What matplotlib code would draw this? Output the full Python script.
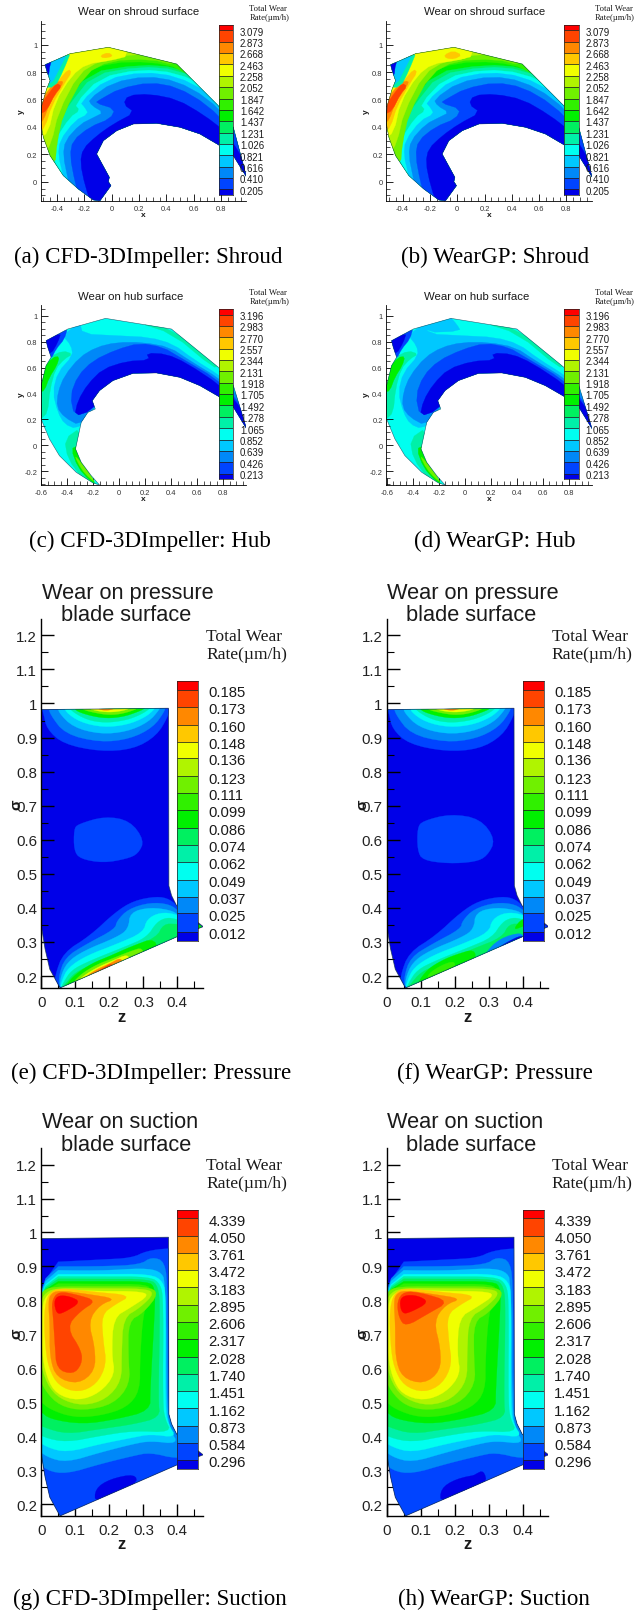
import matplotlib
matplotlib.use("Agg")
import matplotlib.pyplot as plt
from matplotlib.colors import ListedColormap
from matplotlib.patches import Polygon
from matplotlib.ticker import MultipleLocator
import numpy as np

W, H = 644, 1615
SANS = "Liberation Sans"
SERIF = "Liberation Serif"
PALETTE = ['#0000e8', '#0044ff', '#0088f8', '#00c8ff', '#00fff0', '#00f0a8', '#00f060', '#00f000',
           '#30f000', '#70f000', '#b0f400', '#f0ff00', '#ffc800', '#ff8800', '#ff4400', '#ff0000']

SHROUD_LEVELS = [3.079, 2.873, 2.668, 2.463, 2.258, 2.052, 1.847, 1.642, 1.437, 1.231, 1.026, 0.821, 0.616, 0.410, 0.205]
HUB_LEVELS = [3.196, 2.983, 2.770, 2.557, 2.344, 2.131, 1.918, 1.705, 1.492, 1.278, 1.065, 0.852, 0.639, 0.426, 0.213]
PRESSURE_LEVELS = [0.185, 0.173, 0.160, 0.148, 0.136, 0.123, 0.111, 0.099, 0.086, 0.074, 0.062, 0.049, 0.037, 0.025, 0.012]
SUCTION_LEVELS = [4.339, 4.050, 3.761, 3.472, 3.183, 2.895, 2.606, 2.317, 2.028, 1.740, 1.451, 1.162, 0.873, 0.584, 0.296]

SHROUD_OUTLINE = [(-.488,.854),(-.402,.891),(-.305,.934),(-.024,.981),(.476,.859),(.78,.555),(.89,.397),(.988,.032),
    (.89,.19),(.78,.27),(.646,.348),(.5,.397),(.329,.426),(.159,.421),(.037,.372),(-.061,.299),(-.11,.202),(-.017,.032),
    (-.024,0),(-.005,-.029),(-.085,-.139),(-.134,-.134),(-.244,-.054),(-.354,.044),(-.451,.19),(-.5,.324),(-.52,.433),
    (-.512,.555),(-.476,.676),(-.451,.737),(-.476,.81)]
SHROUD_BANDS = [
 (6,[(-.355,.54),(-.17,.795),(.205,.855),(.475,.835),(.76,.72),(.95,.57),(1.07,.40),(1.06,-.22),(-.42,-.22),(-.46,.13),(-.47,.25),(-.39,.50)]),
 (5,[(-.315,.555),(-.135,.78),(.205,.84),(.475,.82),(.745,.69),(.94,.53),(1.06,.36),(1.06,-.22),(-.40,-.22),(-.43,.115),(-.45,.25),(-.34,.505)]),
 (4,[(-.27,.565),(-.085,.76),(.205,.82),(.475,.795),(.72,.68),(.89,.52),(1.06,.31),(1.06,-.22),(-.35,-.22),(-.39,.07),(-.43,.20),(-.41,.31),(-.305,.47),(-.23,.52)]),
 (3,[(-.23,.58),(-.035,.75),(.23,.80),(.475,.77),(.71,.65),(.89,.47),(1.06,.26),(1.06,-.22),(-.305,-.22),(-.355,.045),(-.39,.19),(-.38,.30),(-.27,.445),(-.17,.495),(-.195,.54)]),
 (2,[(-.17,.60),(.01,.725),(.255,.77),(.475,.735),(.695,.615),(.89,.42),(1.06,.19),(1.06,-.22),(-.27,-.22),(-.32,.02),(-.355,.19),(-.34,.30),(-.23,.42),(-.13,.47),(-.06,.505),(-.145,.555)]),
 (1,[(-.085,.60),(.06,.68),(.28,.725),(.48,.69),(.695,.565),(.89,.37),(1.06,.12),(1.06,-.22),(-.21,-.22),(-.27,0),(-.305,.19),(-.285,.30),(-.16,.40),(-.01,.46),(.025,.53),(-.12,.575)]),
 (0,[(.12,.63),(.28,.64),(.48,.60),(.67,.49),(.84,.36),(1.04,.04),(1.04,-.22),(-.13,-.22),(-.195,-.03),(-.23,.14),(-.21,.24),(-.11,.335),(.01,.42),(.17,.505),(.085,.565)]),
 (8,[(-.43,.15),(-.42,.30),(-.375,.50),(-.22,.79),(0,.87),(.28,.875),(.5,.83),(.7,.66),(.85,.5),(.9,.6),(.5,1.0),(-.6,1.0),(-.6,.15)]),
 (9,[(-.415,.117),(-.40,.287),(-.354,.494),(-.195,.786),(-.012,.883),(.28,.895),(.476,.847),(.55,.97),(-.573,.97),(-.573,.117)]),
 (10,[(-.50,.19),(-.44,.287),(-.39,.506),(-.244,.786),(-.085,.883),(.085,.92),(.256,.93),(.23,1.04),(-.573,1.04),(-.573,.19)]),
 (11,[(-.537,.311),(-.463,.36),(-.415,.579),(-.293,.774),(-.183,.859),(-.012,.883),(.134,.92),(.037,1.017),(-.33,.968),(-.573,.603)]),
 (12,[(-.537,.36),(-.488,.397),(-.439,.555),(-.341,.725),(-.293,.798),(-.317,.822),(-.39,.737),(-.451,.664),(-.549,.579)]),
 (12,[(-.085,.92),(-.024,.944),(.012,.915),(-.061,.90)]),
 (13,[(-.529,.433),(-.50,.445),(-.451,.579),(-.366,.70),(-.354,.737),(-.415,.725),(-.476,.652),(-.549,.555)]),
 (14,[(-.524,.494),(-.476,.518),(-.415,.64),(-.366,.696),(-.402,.72),(-.456,.652),(-.524,.555)]),
 (5,[(-.293,.96),(-.354,.81),(-.415,.689),(-.52,.689),(-.52,.96)]),
 (3,[(-.317,.95),(-.39,.81),(-.439,.713),(-.512,.713),(-.512,.95)]),
 (0,[(-.42,.92),(-.451,.859),(-.463,.762),(-.512,.762),(-.512,.92)]),
]
SHROUD_BANDS_B = SHROUD_BANDS + [
 (11,[(-.12,.94),(.0,.97),(.1,.93),(.04,.89),(-.09,.89)]),
 (12,[(-.095,.925),(-.03,.955),(.035,.925),(-.02,.895),(-.08,.90)]),
]

HUB_OUTLINE = [(-.564,.807),(-.396,.897),(-.106,.979),(.401,.897),(.762,.602),(.878,.46),(.98,.126),(.878,.293),(.762,.378),
    (.62,.46),(.466,.524),(.286,.558),(.106,.555),(-.049,.499),(-.152,.422),(-.208,.344),(-.185,.28),(-.242,.254),(-.293,.177),
    (-.337,-.028),(-.293,-.131),(-.216,-.234),(-.152,-.306),(-.203,-.29),(-.332,-.208),(-.461,-.08),(-.538,.049),(-.602,.203),
    (-.605,.332),(-.602,.46),(-.564,.614),(-.525,.679),(-.551,.756)]
HUB_INNER = [(1.058,0),(.878,.152),(.62,.383),(.106,.589)]
HUB_BANDS = [
 (3,[(-.473,.254),(-.512,.409),(-.473,.563),(-.358,.692),(-.371,.769),(-.435,.846),(-.306,.949),(-.28,.859),(-.023,.846),(.234,.833),(.414,.781),(.569,.666),(.774,.537),(.929,.409),(1.058,.152)] + HUB_INNER + [(-.229,.332),(-.242,.203),(-.332,.126),(-.422,.165)]),
 (2,[(-.422,.216),(-.481,.293),(-.473,.409),(-.422,.537),(-.306,.679),(-.178,.756),(-.023,.794),(.183,.794),(.389,.756),(.543,.653),(.774,.512),(.929,.37),(1.058,.10)] + HUB_INNER + [(-.216,.267),(-.306,.152)]),
 (1,[(-.345,.224),(-.378,.383),(-.319,.537),(-.203,.653),(-.023,.738),(.157,.789),(.337,.756),(.466,.679),(.749,.512),(.903,.357),(1.058,.126)] + HUB_INNER + [(-.216,.267)]),
 (0,[(-.345,.224),(-.319,.344),(-.242,.473),(-.126,.589),(.054,.648),(.234,.658),(.208,.712),(.363,.704),(.517,.635),(.774,.465),(.916,.319),(1.058,.10)] + HUB_INNER + [(-.216,.267)]),
 (5,[(-.602,.203),(-.551,.254),(-.533,.434),(-.491,.589),(-.422,.666),(-.358,.704),(-.435,.73),(-.538,.679),(-.64,.46),(-.64,.203)]),
 (7,[(-.614,.409),(-.576,.422),(-.538,.524),(-.481,.614),(-.46,.686),(-.512,.679),(-.589,.589)]),
 (5,[(-.422,.049),(-.293,.139),(-.337,-.067),(-.229,-.26),(-.126,-.337),(-.28,-.26),(-.396,-.105)]),
 (7,[(-.371,-.028),(-.319,-.003),(-.327,-.08),(-.178,-.298),(-.229,-.272),(-.319,-.17)]),
 (9,[(-.345,-.08),(-.306,-.118),(-.178,-.29),(-.229,-.254),(-.293,-.183)]),
 (5,[(.13,.95),(.41,.90),(.77,.61),(.72,.60),(.41,.86)]),
 (1,[(-.602,.82),(-.396,.91),(-.422,.82),(-.486,.743),(-.525,.666),(-.602,.666)]),
 (0,[(-.602,.807),(-.448,.871),(-.473,.794),(-.525,.704),(-.602,.704)]),
]
HUB_BANDS_D = HUB_BANDS + [(3,[(-.30,.96),(-.12,1.0),(-.06,.93),(-.03,.88),(-.30,.87)])]

BLADE_OUTLINE = [(0,.982),(.374,.986),(.375,.465),(.383,.436),(.398,.406),(.476,.345),(.398,.315),(.055,.165),(.025,.22),(.011,.28),(0,.348)]
PRESSURE_TOP = [
 (1,[(.006,.974),(.016,.925),(.065,.881),(.173,.859),(.271,.866),(.339,.905),(.374,.964),(.378,.994),(-.004,.994)]),
 (2,[(.025,.969),(.07,.91),(.173,.886),(.261,.896),(.329,.93),(.364,.979),(.364,.994),(.021,.994)]),
 (3,[(.05,.974),(.094,.93),(.173,.91),(.251,.917),(.315,.945),(.349,.984),(.349,.994),(.05,.994)]),
 (4,[(.07,.976),(.114,.945),(.182,.93),(.251,.937),(.305,.959),(.334,.984),(.334,.994),(.07,.994)]),
 (5,[(.085,.98),(.133,.952),(.187,.943),(.246,.95),(.29,.966),(.32,.985),(.32,.994),(.085,.994)]),
 (7,[(.099,.979),(.143,.964),(.192,.956),(.241,.961),(.28,.974),(.305,.985),(.305,.994),(.099,.994)]),
 (9,[(.12,.982),(.16,.972),(.2,.966),(.24,.97),(.285,.985),(.285,.994),(.12,.994)]),
 (11,[(.14,.984),(.18,.975),(.22,.975),(.26,.984),(.26,.994),(.14,.994)]),
 (13,[(.16,.986),(.19,.978),(.22,.986),(.22,.994),(.16,.994)]),
]
PRESSURE_BLOB = [(1,[(.096,.631),(.108,.646),(.187,.669),(.261,.656),(.303,.598),(.285,.559),(.251,.544),(.182,.532),(.114,.544),(.096,.569)])]
PRESSURE_BLOB_F = [(1,[(.09,.635),(.105,.655),(.187,.676),(.275,.662),(.32,.60),(.295,.552),(.26,.535),(.182,.53),(.105,.54),(.09,.57)])]
PRESSURE_LOW = [
 (1,[(.04,.201),(.065,.269),(.143,.318),(.217,.387),(.271,.421),(.339,.434),(.378,.426),(.408,.397),(.481,.338),(.408,.304),(.055,.157),(.04,.162)]),
 (2,[(.05,.196),(.07,.255),(.133,.294),(.217,.338),(.222,.362),(.256,.397),(.32,.416),(.378,.411),(.408,.387),(.481,.343),(.413,.304),(.055,.157)]),
 (3,[(.055,.193),(.075,.24),(.124,.274),(.222,.314),(.256,.338),(.261,.387),(.32,.402),(.388,.392),(.408,.372),(.481,.343),(.413,.304),(.055,.157)]),
 (4,[(.06,.186),(.079,.225),(.133,.26),(.222,.294),(.3,.328),(.31,.367),(.349,.387),(.398,.382),(.481,.343),(.413,.304),(.055,.157)]),
 (5,[(.065,.181),(.089,.218),(.143,.245),(.241,.284),(.31,.313),(.339,.358),(.369,.372),(.398,.367),(.481,.343),(.413,.304),(.055,.157)]),
 (6,[(.07,.176),(.099,.211),(.153,.235),(.251,.279),(.339,.313),(.359,.353),(.398,.353),(.481,.345),(.413,.304),(.055,.157)]),
]
PRESSURE_HIGH_E = [
 (7,[(.075,.176),(.10,.205),(.15,.238),(.2,.258),(.26,.285),(.34,.315),(.34,.24),(.06,.15)]),
 (9,[(.09,.178),(.12,.208),(.16,.232),(.2,.248),(.26,.272),(.30,.285),(.30,.24),(.09,.15)]),
 (11,[(.105,.185),(.135,.208),(.17,.228),(.21,.245),(.255,.265),(.26,.24),(.105,.15)]),
 (13,[(.13,.198),(.16,.218),(.2,.236),(.235,.255),(.24,.23),(.13,.17)]),
 (14,[(.15,.205),(.18,.222),(.21,.24),(.21,.21),(.15,.19)]),
 (7,[(.43,.33),(.485,.345),(.43,.36)]),
]
PRESSURE_HIGH_F = [
 (7,[(.09,.18),(.12,.22),(.16,.245),(.2,.262),(.26,.28),(.26,.24),(.09,.15)]),
 (8,[(.12,.205),(.16,.232),(.2,.245),(.2,.22),(.12,.185)]),
 (2,[(.285,.262),(.33,.31),(.40,.33),(.40,.30),(.3,.25)]),
 (0,[(.31,.27),(.35,.298),(.40,.322),(.40,.30),(.31,.26)]),
 (7,[(.37,.335),(.40,.372),(.43,.36),(.40,.345)]),
 (1,[(.42,.33),(.485,.345),(.42,.36)]),
]
SUCTION_LOW = [
 (1,[(-.024,.91),(.173,.92),(.266,.925),(.31,.946),(.378,.954),(.5,.954),(.5,.3),(.05,.1),(-.024,.1)]),
 (0,[(.158,.245),(.202,.274),(.276,.289),(.282,.259),(.158,.2)]),
 (2,[(-.024,.90),(.173,.90),(.29,.905),(.324,.928),(.364,.915),(.371,.827),(.373,.475),(.388,.416),(.466,.347),(.398,.333),(.32,.352),(.27,.342),(.173,.318),(.075,.289),(.016,.298),(-.024,.338)]),
 (3,[(-.024,.89),(.173,.887),(.30,.895),(.349,.886),(.366,.856),(.368,.475),(.38,.416),(.403,.377),(.32,.386),(.27,.377),(.173,.352),(.075,.323),(.016,.338),(-.024,.372)]),
 (4,[(-.024,.877),(.173,.877),(.32,.878),(.359,.856),(.366,.807),(.364,.484),(.373,.435),(.398,.396),(.32,.406),(.27,.396),(.173,.377),(.075,.352),(.016,.367),(-.024,.396)]),
 (5,[(-.024,.871),(.173,.87),(.32,.87),(.351,.848),(.359,.797),(.357,.494),(.364,.45),(.383,.411),(.27,.416),(.173,.401),(.075,.382),(.006,.396),(-.024,.421)]),
 (6,[(-.024,.864),(.173,.863),(.32,.863),(.344,.841),(.349,.778),(.344,.504),(.349,.455),(.27,.435),(.173,.421),(.075,.406),(.006,.426),(-.024,.445)]),
 (7,[(-.024,.856),(.173,.856),(.315,.856),(.334,.837),(.334,.778),(.32,.533),(.32,.475),(.221,.45),(.123,.435),(.025,.45),(-.004,.475),(-.024,.475)]),
 (8,[(-.024,.85),(.173,.848),(.31,.848),(.324,.827),(.30,.768),(.29,.631),(.29,.533),(.251,.484),(.173,.46),(.094,.455),(.025,.479),(-.004,.504),(-.024,.514)]),
 (9,[(-.012,.788),(.001,.827),(.035,.841),(.173,.841),(.31,.841),(.347,.822),(.30,.763),(.256,.739),(.256,.631),(.261,.553),(.212,.494),(.123,.475),(.055,.489),(.011,.533),(-.014,.592)]),
 (10,[(-.006,.778),(.006,.817),(.04,.837),(.173,.835),(.30,.835),(.334,.822),(.29,.778),(.241,.749),(.236,.641),(.236,.563),(.192,.509),(.123,.489),(.055,.509),(.016,.553),(-.006,.631)]),
 (11,[(.001,.768),(.011,.812),(.045,.832),(.173,.827),(.28,.827),(.32,.817),(.261,.778),(.212,.749),(.207,.641),(.217,.582),(.173,.528),(.109,.504),(.045,.523),(.016,.572),(.001,.651)]),
 (12,[(.008,.768),(.021,.822),(.055,.837),(.153,.825),(.266,.815),(.217,.788),(.177,.758),(.182,.68),(.192,.612),(.163,.553),(.109,.528),(.05,.548),(.021,.602),(.011,.67)]),
 (13,[(.021,.788),(.025,.817),(.05,.83),(.133,.819),(.221,.805),(.173,.788),(.138,.739),(.158,.66),(.158,.592),(.109,.553),(.045,.572),(.025,.631),(.025,.729)]),
]
SUCTION_RED_G = [
 (14,[(.03,.797),(.05,.827),(.104,.817),(.163,.799),(.114,.768),(.074,.721),(.119,.651),(.119,.612),(.094,.582),(.045,.597),(.04,.67),(.035,.749)]),
 (15,[(.037,.797),(.05,.815),(.084,.812),(.117,.795),(.065,.763),(.045,.76)]),
]
SUCTION_RED_H = [
 (14,[(.03,.797),(.05,.827),(.104,.822),(.185,.797),(.12,.76),(.055,.722),(.035,.75)]),
 (15,[(.037,.797),(.05,.815),(.09,.815),(.125,.795),(.07,.765),(.045,.76)]),
 (0,[(.22,.262),(.26,.288),(.285,.3),(.295,.26),(.22,.22)]),
]
SMALL_X_A = [-0.4, -0.2, 0, 0.2, 0.4, 0.6, 0.8]
SMALL_Y_A = [0, 0.2, 0.4, 0.6, 0.8, 1]
SMALL_X_C = [-0.6, -0.4, -0.2, 0, 0.2, 0.4, 0.6, 0.8]
SMALL_Y_C = [-0.2, 0, 0.2, 0.4, 0.6, 0.8, 1]
BLADE_X = [0, 0.1, 0.2, 0.3, 0.4]
BLADE_Y = [0.2, 0.3, 0.4, 0.5, 0.6, 0.7, 0.8, 0.9, 1, 1.1, 1.2]

fig = plt.figure(figsize=(W / 100, H / 100), dpi=100)


def tx(x, y, s, **kw):
    kw.setdefault('ha', 'left')
    kw.setdefault('va', 'center')
    kw.setdefault('family', SANS)
    kw.setdefault('color', '#1a1a1a')
    return fig.text(x / W, 1 - y / H, s, **kw)


def box(l, t, r, b):
    return fig.add_axes([l / W, 1 - b / H, (r - l) / W, (b - t) / H])


def chaikin(pts, n):
    p = np.array(pts, float)
    for _ in range(n):
        q = np.roll(p, -1, axis=0)
        p = np.column_stack([0.75 * p + 0.25 * q, 0.25 * p + 0.75 * q]).reshape(-1, 2)
    return p


def field(ax, outline, base, bands, smooth, lw):
    clip = Polygon(outline, closed=True, fc=PALETTE[base], ec='none', zorder=1.5)
    ax.add_patch(clip)
    for lev, pts in bands:
        pg = Polygon(chaikin(pts, smooth), closed=True, fc=PALETTE[lev], ec=PALETTE[lev], lw=0.2, zorder=1.6)
        ax.add_patch(pg)
        pg.set_clip_path(clip)
    ax.add_patch(Polygon(outline, closed=True, fill=False, ec='#10304a', lw=lw, alpha=0.75, zorder=1.8))


def axes_fmt(ax, xlim, ylim, xt, yt, fs, ml, mn, w, padx, pady, col):
    ax.set_xlim(*xlim); ax.set_ylim(*ylim)
    for s in ('top', 'right'):
        ax.spines[s].set_visible(False)
    for s in ('left', 'bottom'):
        ax.spines[s].set_linewidth(w)
        ax.spines[s].set_zorder(3)
    ax.patch.set_alpha(0)
    ax.set_xticks(xt); ax.set_yticks(yt)
    ax.set_xticklabels([f'{v:g}' for v in xt], family=SANS, fontsize=fs, color=col)
    ax.set_yticklabels([f'{v:g}' for v in yt], family=SANS, fontsize=fs, color=col)
    ax.xaxis.set_minor_locator(MultipleLocator(0.05 if ml > 6 else 0.05))
    ax.yaxis.set_minor_locator(MultipleLocator(0.05))
    ax.tick_params(which='major', direction='in', length=ml, width=w, zorder=3)
    ax.tick_params(which='minor', direction='in', length=mn, width=w * 0.8, zorder=3)
    ax.tick_params(axis='x', which='major', pad=padx)
    ax.tick_params(axis='y', which='major', pad=pady)


def colorbar(l, t, r, b, levels, fs, xlab, off):
    ax = box(l, t, r, b)
    vals = np.array(levels[::-1])
    step = vals[1] - vals[0]
    edges = np.r_[vals[0] - step / 2, vals, vals[-1] + step / 2]
    ax.pcolormesh([0, 1], edges, np.arange(16).reshape(-1, 1), cmap=ListedColormap(PALETTE), shading='flat', zorder=2)
    ax.hlines(vals, 0, 1, color='#202020', lw=0.55, zorder=3)
    ax.set_xlim(0, 1); ax.set_ylim(edges[0], edges[-1])
    ax.set_xticks([]); ax.set_yticks([])
    for s in ax.spines.values():
        s.set_linewidth(0.5); s.set_color('#202020')
    for i, v in enumerate(vals):
        y_px = b - (v - edges[0]) / (edges[-1] - edges[0]) * (b - t)
        tx(xlab, y_px + off, f'{v:.3f}', fontsize=fs, zorder=5)


def small_panel(dx, top, outline, bands, levels, xlim, ylim, xt, yt, title, cap, capx, capy, oy, cy0, cy1, by):
    ax = box(40.7 + dx, top, 246 + dx, by)
    field(ax, outline, 7 if outline is SHROUD_OUTLINE else 4, bands, 1, 0.4)
    axes_fmt(ax, xlim, ylim, xt, yt, 5.4, 5, 3, 0.6, 3, 2.5, '#333333')
    tx(78 + dx, oy, title, fontsize=8.2)
    tx(249.3 + dx, oy - 3.3, 'Total Wear', family=SERIF, fontsize=6.2)
    tx(249.3 + dx, oy + 5.7, 'Rate(\u00b5m/h)', family=SERIF, fontsize=6.2)
    colorbar(218.7 + dx, cy0, 233 + dx, cy1, levels, 6.9, 240 + dx, 1.3)
    tx(143.7 + dx, by + 13.6, 'x', fontsize=6, fontweight='bold', ha='center')
    tx(21.3 + dx, 0.5 * (top + by) + (0 if outline is SHROUD_OUTLINE else -1), 'y', fontsize=6, fontweight='bold', ha='center', rotation=90)
    tx(capx, capy, cap, family=SERIF, fontsize=16.6, ha='center', color='black')


def blade_panel(dx, top, bot, bands, base, levels, t1, t2, cap, capx, capy, ys, cb0, cb1):
    ax = box(41.3 + dx, top, 202.7 + dx, bot)
    field(ax, BLADE_OUTLINE, base, bands, 2, 0.6)
    axes_fmt(ax, (0, 0.4745), (0.164, 1.248), BLADE_X, BLADE_Y, 10.8, 9, 5, 1.0, 5, 3, '#222222')
    tx(41.7 + dx, ys[0], t1, fontsize=15.7)
    tx(61 + dx, ys[1], t2, fontsize=15.7)
    tx(206 + dx, ys[2], 'Total Wear', family=SERIF, fontsize=12.6)
    tx(206 + dx, ys[3], 'Rate(\u00b5m/h)', family=SERIF, fontsize=12.6)
    colorbar(177 + dx, cb0, 198 + dx, cb1, levels, 10.7, 208.7 + dx, 2.2)
    tx(121.7 + dx, ys[4], 'z', fontsize=12, fontweight='bold', ha='center')
    tx(16.7 + dx, ys[5], '\u03c3', fontsize=11, fontweight='bold', ha='center', rotation=90)
    tx(capx, capy, cap, family=SERIF, fontsize=16.6, ha='center', color='black')


DX = 345.5
XL_A, YL_A = (-0.5195, 0.983), (-0.139, 1.175)
XL_C, YL_C = (-0.605, 0.975), (-0.306, 1.082)
small_panel(0, 21.7, SHROUD_OUTLINE, SHROUD_BANDS, SHROUD_LEVELS, XL_A, YL_A, SMALL_X_A, SMALL_Y_A,
            'Wear on shroud surface', '(a) CFD-3DImpeller: Shroud', 148.7, 257, 12.3, 25.7, 196, 201.7)
small_panel(DX, 21.7, SHROUD_OUTLINE, SHROUD_BANDS_B, SHROUD_LEVELS, XL_A, YL_A, SMALL_X_A, SMALL_Y_A,
            'Wear on shroud surface', '(b) WearGP: Shroud', 495, 257, 12.3, 25.7, 196, 201.7)
small_panel(0, 306, HUB_OUTLINE, HUB_BANDS, HUB_LEVELS, XL_C, YL_C, SMALL_X_C, SMALL_Y_C,
            'Wear on hub surface', '(c) CFD-3DImpeller: Hub', 149.5, 541.7, 296.7, 310, 480.3, 486)
small_panel(DX, 306, HUB_OUTLINE, HUB_BANDS_D, HUB_LEVELS, XL_C, YL_C, SMALL_X_C, SMALL_Y_C,
            'Wear on hub surface', '(d) WearGP: Hub', 495, 541.7, 296.7, 310, 480.3, 486)

YS_E = (593.3, 616, 637, 655, 1017.3, 805)
YS_G = (1122.7, 1145.3, 1166.3, 1184.3, 1545, 1334)
blade_panel(0, 620, 989.3, PRESSURE_TOP + PRESSURE_BLOB + PRESSURE_LOW + PRESSURE_HIGH_E, 0, PRESSURE_LEVELS,
            'Wear on pressure', 'blade surface', '(e) CFD-3DImpeller: Pressure', 151, 1073, YS_E, 681.7, 941.7)
blade_panel(DX, 620, 989.3, PRESSURE_TOP + PRESSURE_BLOB_F + PRESSURE_LOW + PRESSURE_HIGH_F, 0, PRESSURE_LEVELS,
            'Wear on pressure', 'blade surface', '(f) WearGP: Pressure', 495, 1073, YS_E, 681.7, 941.7)
blade_panel(0, 1149.3, 1517.3, SUCTION_LOW + SUCTION_RED_G, 0, SUCTION_LEVELS,
            'Wear on suction', 'blade surface', '(g) CFD-3DImpeller: Suction', 149.5, 1599, YS_G, 1210.7, 1469.7)
blade_panel(DX, 1149.3, 1517.3, SUCTION_LOW + SUCTION_RED_H, 0, SUCTION_LEVELS,
            'Wear on suction', 'blade surface', '(h) WearGP: Suction', 494, 1599, YS_G, 1210.7, 1469.7)

fig.savefig('out.png', dpi=100)
